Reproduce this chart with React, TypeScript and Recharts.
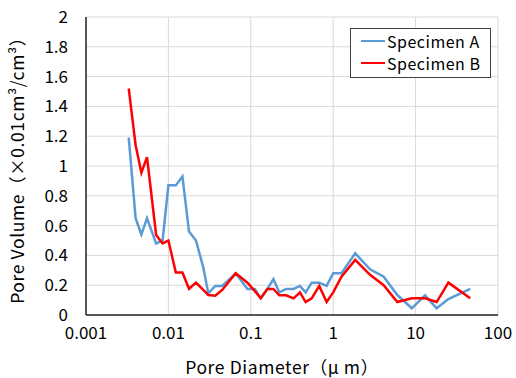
import { LineChart, Line, XAxis, YAxis, CartesianGrid, Legend, Label } from 'recharts';

// pore diameter (µm), shared by both specimens
const diameters = [
  0.0033, 0.004, 0.0047, 0.0055, 0.0071, 0.0085, 0.01, 0.0123, 0.0148, 0.0178,
  0.0216, 0.0265, 0.0305, 0.037, 0.045, 0.0656, 0.091, 0.112, 0.132, 0.159,
  0.188, 0.222, 0.268, 0.33, 0.395, 0.463, 0.548, 0.677, 0.832, 1.0,
  1.26, 1.85, 2.8, 4.1, 6.0, 9.0, 13, 18, 25, 46,
];

const specimenA = [
  1.19, 0.65, 0.54, 0.65, 0.48, 0.5, 0.87, 0.87, 0.93, 0.56,
  0.5, 0.32, 0.145, 0.195, 0.195, 0.28, 0.175, 0.175, 0.112, 0.175,
  0.24, 0.152, 0.175, 0.175, 0.195, 0.152, 0.217, 0.217, 0.195, 0.28,
  0.28, 0.414, 0.307, 0.257, 0.134, 0.045, 0.132, 0.045, 0.107, 0.175,
];

const specimenB = [
  1.52, 1.14, 0.955, 1.06, 0.537, 0.48, 0.5, 0.285, 0.285, 0.176,
  0.217, 0.168, 0.134, 0.13, 0.168, 0.28, 0.217, 0.16, 0.112, 0.175,
  0.175, 0.132, 0.132, 0.112, 0.152, 0.087, 0.112, 0.195, 0.087, 0.152,
  0.257, 0.37, 0.27, 0.2, 0.087, 0.112, 0.112, 0.087, 0.217, 0.112,
];

const xTicks = [0.001, 0.01, 0.1, 1, 10, 100];
const yTicks = [0, 0.2, 0.4, 0.6, 0.8, 1, 1.2, 1.4, 1.6, 1.8, 2];

const seriesNames = ['Specimen A', 'Specimen B'];
const seriesColors = ['#5B9BD5', '#FF0000'];

const data = diameters.map((d, i) => ({ d, a: specimenA[i], b: specimenB[i] }));

const FONT = '"Noto Sans CJK JP", "Noto Sans", sans-serif';

function LegendBox() {
  return (
    <div
      style={{
        border: '1px solid #404040',
        background: '#fff',
        padding: '1px 4px 3px 10px',
        fontFamily: FONT,
        fontSize: 16,
        lineHeight: '22px',
        color: '#000',
        whiteSpace: 'nowrap',
        boxSizing: 'border-box',
      }}
    >
      {seriesNames.map((name, i) => (
        <div key={name} style={{ display: 'flex', alignItems: 'center', height: 22 }}>
          <span
            style={{
              display: 'inline-block',
              width: 24,
              height: 0,
              borderTop: `2.5px solid ${seriesColors[i]}`,
              marginRight: 2,
            }}
          />
          <span style={{ letterSpacing: 0.5 }}>{name}</span>
        </div>
      ))}
    </div>
  );
}

export default function App() {
  return (
    <div style={{ position: 'absolute', left: 0, top: 0 }}>
      <style>{'body{margin:0}'}</style>
      <LineChart
        width={516}
        height={378}
        data={data}
        margin={{ top: 17, right: 18, left: 0, bottom: 0 }}
      >
        <CartesianGrid stroke="#d9d9d9" strokeWidth={1} />
        <XAxis
          dataKey="d"
          type="number"
          scale="log"
          domain={[0.001, 100]}
          ticks={xTicks}
          allowDataOverflow
          height={63}
          tickLine={false}
          axisLine={{ stroke: '#262626', strokeWidth: 1.5 }}
          tickMargin={6}
          tick={{ fontSize: 17, fill: '#000', fontFamily: FONT }}
          tickFormatter={(v) => String(v)}
        >
          <Label
            content={() => (
              <text
                x={282}
                y={374}
                textAnchor="middle"
                fontSize={17.5}
                letterSpacing={0.6}
                fontFamily={FONT}
                fill="#000"
              >
                Pore Diameter（μ m）
              </text>
            )}
          />
        </XAxis>
        <XAxis
          xAxisId="top"
          orientation="top"
          dataKey="d"
          type="number"
          scale="log"
          domain={[0.001, 100]}
          height={0}
          tick={false}
          tickLine={false}
          axisLine={{ stroke: '#262626', strokeWidth: 1.5 }}
        />
        <YAxis
          domain={[0, 2]}
          ticks={yTicks}
          width={86}
          tickLine={false}
          axisLine={{ stroke: '#262626', strokeWidth: 1.5 }}
          tickMargin={12}
          tick={{ fontSize: 17, fill: '#000', fontFamily: FONT }}
        >
          <Label
            content={() => (
              <text
                x={24}
                y={166}
                transform="rotate(-90, 24, 166)"
                textAnchor="middle"
                fontSize={17.5}
                letterSpacing={0.6}
                fontFamily={FONT}
                fill="#000"
              >
                Pore Volume（×0.01cm³/cm³）
              </text>
            )}
          />
        </YAxis>
        <YAxis
          yAxisId="right"
          orientation="right"
          domain={[0, 2]}
          width={0}
          tick={false}
          tickLine={false}
          axisLine={{ stroke: '#262626', strokeWidth: 1.5 }}
        />
        <Legend
          verticalAlign="middle"
          align="center"
          layout="vertical"
          content={() => <LegendBox />}
          wrapperStyle={{ position: 'absolute', left: 350, top: 28, width: 141 }}
        />
        <Line
          dataKey="a"
          name={seriesNames[0]}
          stroke={seriesColors[0]}
          strokeWidth={2.5}
          dot={false}
          isAnimationActive={false}
        />
        <Line
          dataKey="b"
          name={seriesNames[1]}
          stroke={seriesColors[1]}
          strokeWidth={2.5}
          dot={false}
          isAnimationActive={false}
        />
      </LineChart>
    </div>
  );
}
